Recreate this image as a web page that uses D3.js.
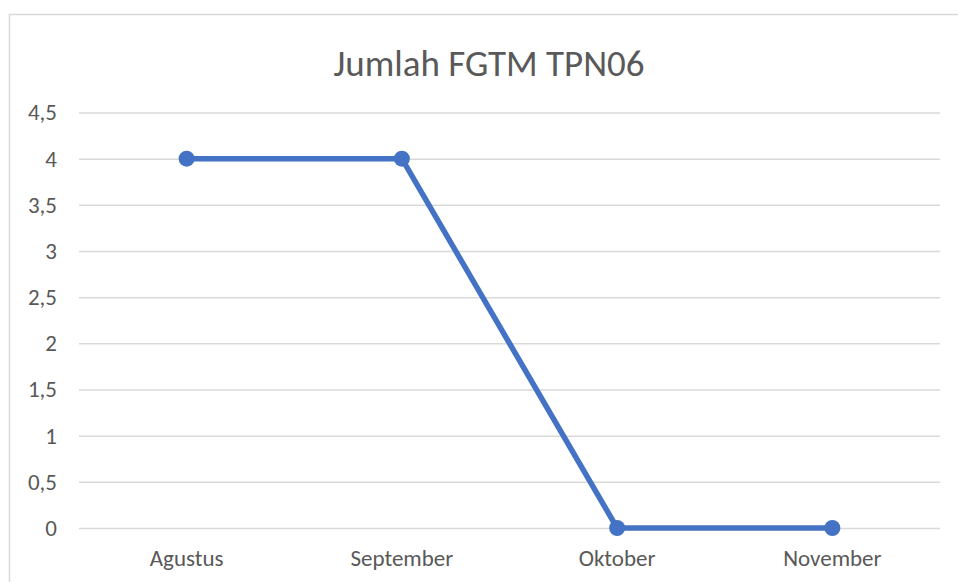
<html>
<style>
    body { margin:0; background:#fff; }
    svg { display:block; }
</style>
<script src="https://d3js.org/d3.v7.min.js" charset="utf-8"></script>
<body>
<div class="chart"></div>
<script>
    var months = ["Agustus", "September", "Oktober", "November"];
    var jumlah = [4, 4, 0, 0];
    var yTicks = [0, 0.5, 1, 1.5, 2, 2.5, 3, 3.5, 4, 4.5];

    // layout
    var W = 958, H = 582;
    var plot = { left: 79, right: 940, top: 112.5, bottom: 528 };
    var font = "Carlito, Calibri, 'Open Sans', sans-serif";

    var svg = d3.select(".chart").append("svg")
        .attr("width", W)
        .attr("height", H);

    // chart frame (only top and left show inside the picture)
    svg.append("rect")
        .attr("x", 9.5).attr("y", 14.5)
        .attr("width", W + 10).attr("height", H + 10)
        .attr("fill", "none")
        .attr("stroke", "#d9d9d9")
        .attr("stroke-width", 1.5);

    var x = d3.scaleBand()
        .domain(months)
        .range([plot.left, plot.right]);

    var y = d3.scaleLinear()
        .domain([0, 4.5])
        .range([plot.bottom, plot.top]);

    var fmt = function(d) { return String(d).replace(".", ","); };

    // gridlines + y labels
    var yAxis = d3.axisLeft(y)
        .tickValues(yTicks)
        .tickFormat(fmt)
        .tickSize(-(plot.right - plot.left))
        .tickPadding(22);

    var gy = svg.append("g")
        .attr("transform", "translate(" + plot.left + ",0)")
        .call(yAxis);
    gy.select(".domain").remove();
    gy.selectAll(".tick line")
        .attr("stroke", "#d9d9d9")
        .attr("stroke-width", 1.5);
    gy.selectAll(".tick text")
        .attr("fill", "#595959")
        .style("font-family", font)
        .style("font-size", "23px");

    // x labels
    var xAxis = d3.axisBottom(x).tickSize(0).tickPadding(22);
    var gx = svg.append("g")
        .attr("transform", "translate(0," + plot.bottom + ")")
        .call(xAxis);
    gx.select(".domain").remove();
    gx.selectAll(".tick text")
        .attr("fill", "#595959")
        .style("font-family", font)
        .style("font-size", "23px");

    // title
    svg.append("text")
        .attr("x", 489)
        .attr("y", 76)
        .attr("text-anchor", "middle")
        .attr("fill", "#595959")
        .style("font-family", font)
        .style("font-size", "37px")
        .text("Jumlah FGTM TPN06");

    // line
    var line = d3.line()
        .x(function(d, i) { return x(months[i]) + x.bandwidth() / 2; })
        .y(function(d) { return y(d); });

    svg.append("path")
        .datum(jumlah)
        .attr("fill", "none")
        .attr("stroke", "#4472c4")
        .attr("stroke-width", 5.5)
        .attr("stroke-linejoin", "round")
        .attr("d", line);

    svg.selectAll("circle.pt")
        .data(jumlah)
        .enter().append("circle")
        .attr("class", "pt")
        .attr("cx", function(d, i) { return x(months[i]) + x.bandwidth() / 2; })
        .attr("cy", function(d) { return y(d); })
        .attr("r", 8)
        .attr("fill", "#4472c4");
</script>
</body>
</html>
